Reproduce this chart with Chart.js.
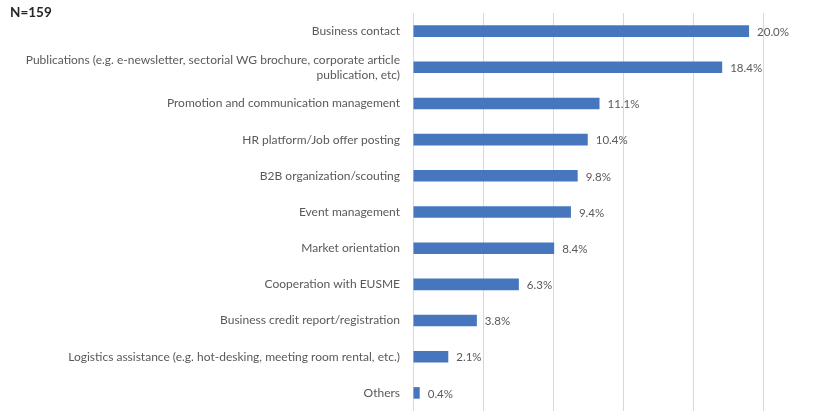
<!DOCTYPE html>
<html>
<head>
<meta charset="utf-8">
<script src="https://cdn.jsdelivr.net/npm/chart.js@4.4.0/dist/chart.umd.min.js"></script>
<style>
  html, body { margin: 0; padding: 0; background: #ffffff; overflow: hidden; }
  #wrap { position: relative; width: 824px; height: 411px; }
  canvas { display: block; }
  #n { position: absolute; left: 10px; top: 4px; font-family: Lato, "Open Sans", sans-serif; font-size: 13.5px; font-weight: bold; color: #262626; }
</style>
</head>
<body>
<div id="wrap">
  <canvas id="c" width="824" height="411"></canvas>
  <div id="n">N=159</div>
</div>
<script>
const categories = [
  "Business contact",
  ["Publications (e.g. e-newsletter, sectorial WG brochure, corporate article", "publication, etc)"],
  "Promotion and communication management",
  "HR platform/Job offer posting",
  "B2B organization/scouting",
  "Event management",
  "Market orientation",
  "Cooperation with EUSME",
  "Business credit report/registration",
  "Logistics assistance (e.g. hot-desking, meeting room rental, etc.)",
  "Others"
];
const values = [20.0, 18.4, 11.1, 10.4, 9.8, 9.4, 8.4, 6.3, 3.8, 2.1, 0.4];
const gridStep = 25 / 6;
const gridCount = 6;

const textColor = '#595959';
const fontFamily = 'Lato, "Open Sans", sans-serif';

const valueLabels = {
  id: 'valueLabels',
  afterDatasetsDraw(chart) {
    const ctx = chart.ctx;
    const meta = chart.getDatasetMeta(0);
    ctx.save();
    ctx.font = '11.5px ' + fontFamily;
    ctx.fillStyle = textColor;
    ctx.textAlign = 'left';
    ctx.textBaseline = 'middle';
    meta.data.forEach((bar, i) => {
      ctx.fillText(values[i].toFixed(1) + '%', bar.x + 8, bar.y + 1);
    });
    ctx.restore();
  }
};

new Chart(document.getElementById('c'), {
  type: 'bar',
  data: {
    labels: categories,
    datasets: [{
      data: values,
      backgroundColor: '#4677BE',
      borderWidth: 0,
      barPercentage: 0.32,
      categoryPercentage: 1.0
    }]
  },
  options: {
    indexAxis: 'y',
    responsive: false,
    animation: false,
    layout: { padding: { top: 13, bottom: 0, left: 0, right: 1 } },
    plugins: { legend: { display: false }, tooltip: { enabled: false } },
    scales: {
      x: {
        min: 0,
        max: 24.4,
        afterBuildTicks(scale) {
          const t = [];
          for (let i = 0; i < gridCount; i++) t.push({ value: i * gridStep });
          scale.ticks = t;
        },
        afterFit(scale) { scale.height = 0; scale.paddingLeft = 0; scale.paddingRight = 0; },
        ticks: { display: false },
        border: { display: false },
        grid: { color: '#D9D9D9', lineWidth: 1, drawTicks: false }
      },
      y: {
        afterFit(scale) { scale.width = 413; scale.paddingTop = 0; scale.paddingBottom = 0; },
        grid: { display: false, drawTicks: false },
        border: { display: false },
        ticks: {
          padding: 13,
          color: textColor,
          font: { family: fontFamily, size: 12, lineHeight: 1.25 }
        }
      }
    }
  },
  plugins: [valueLabels]
});
</script>
</body>
</html>
